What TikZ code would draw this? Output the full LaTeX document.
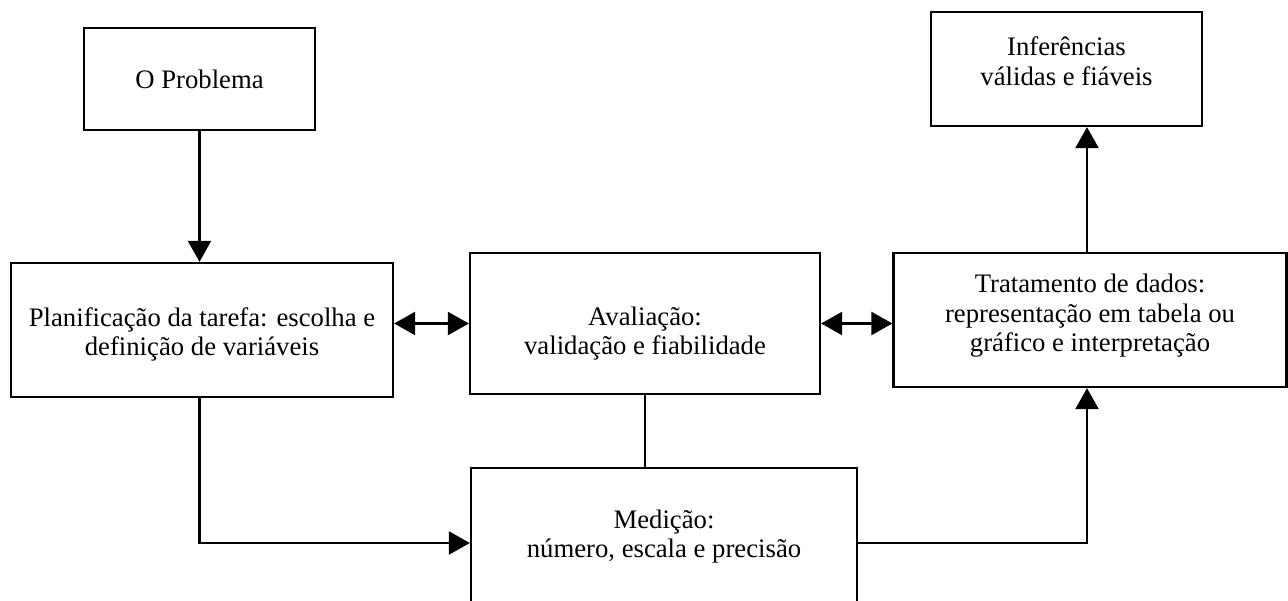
\documentclass[tikz,border=0pt]{standalone}
\usepackage{fontspec}
\setmainfont{Liberation Serif}
\usetikzlibrary{arrows.meta,positioning}

\tikzset{
  etapa/.style={draw, line width=1.3pt},
  texto/.style={align=center, font=\fontsize{15.2}{16.8}\selectfont},
  rotulo/.style 2 args={label={[texto, yshift=#1]center:{#2}}},
  seta/.style={line width=1.3pt, -{Triangle[length=0.42cm,width=0.46cm]}},
  dupla/.style={line width=1.3pt, {Triangle[length=0.42cm,width=0.46cm]}-{Triangle[length=0.42cm,width=0.46cm]}}
}

\begin{document}
\begin{tikzpicture}[on grid]
  \useasboundingbox (0,0) rectangle (25.76,-12.02);
  \clip (0,0) rectangle (25.76,-12.02);
           \node[etapa, minimum width=7.64cm, minimum height=2.68cm, rotulo={-2.5pt}{Planificação da tarefa: escolha e\\definição de variáveis}] (plan) at (4.04,-6.60) {};
           \node[etapa, minimum width=4.62cm, minimum height=2.04cm, rotulo={0pt}{O Problema}] (prob) [above=5.02cm of plan, xshift=-0.05cm] {};
           \node[etapa, minimum width=7.00cm, minimum height=2.82cm, rotulo={-5.7pt}{Avaliação:\\validação e fiabilidade}] (aval) [right=8.86cm of plan, yshift=0.13cm] {};
           \node[etapa, minimum width=7.86cm, minimum height=2.68cm, rotulo={2.3pt}{Tratamento de dados:\\representação em tabela ou\\gráfico e interpretação}] (trat) [right=8.90cm of aval, yshift=0.07cm] {};
           \node[etapa, minimum width=5.42cm, minimum height=2.28cm, rotulo={4.5pt}{Inferências\\válidas e fiáveis}] (infer) [above=5.02cm of trat, xshift=-0.47cm] {};
           \node[etapa, minimum width=7.72cm, minimum height=3.00cm, rotulo={3.7pt}{Medição:\\número, escala e precisão}] (med) [below=4.39cm of aval, xshift=0.38cm] {};
           % ligacoes
           \draw[seta] (prob.south) -- (prob.south |- plan.north);
           \draw[dupla] (aval.west -| plan.east) -- (aval.west);
           \draw[dupla] (aval.east) -- (aval.east -| trat.west);
           \draw[line width=1.3pt] (aval.south) -- (aval.south |- med.north);
           \draw[seta] (prob.south |- plan.south) |- (med.west);
           \draw[seta] (med.east) -| ([xshift=-0.06cm]trat.south);
           \draw[seta] ([xshift=-0.06cm]trat.north) -- ([xshift=-0.06cm]trat.north |- infer.south);
\end{tikzpicture}
\end{document}
